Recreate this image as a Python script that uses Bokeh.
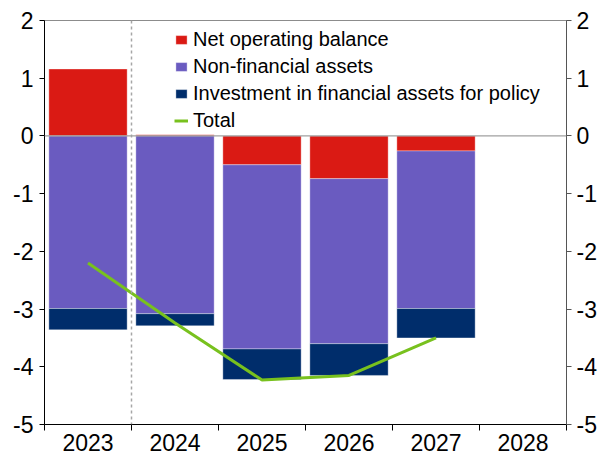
import numpy as np
from bokeh.plotting import figure
from bokeh.models import Range1d, FixedTicker, LinearAxis, Span, ColumnDataSource
from bokeh.embed import file_html
from bokeh.resources import INLINE

years = ["2023", "2024", "2025", "2026", "2027", "2028"]
net_operating_balance = [1.16, 0.02, -0.50, -0.74, -0.26]
non_financial_assets = [-2.99, -3.08, -3.19, -2.86, -2.73]
investment_policy = [-0.37, -0.21, -0.53, -0.55, -0.51]
total = [-2.20, -3.24, -4.23, -4.15, -3.50]
y_ticks = [-5, -4, -3, -2, -1, 0, 1, 2]

RED = "#DA1A14"
PURPLE = "#6A5BC0"
NAVY = "#002D6B"
GREEN = "#78C11E"
FONT = "Liberation Sans"

n = len(net_operating_balance)
x = np.arange(n)
nob = np.array(net_operating_balance)
nfa = np.array(non_financial_assets)
inv = np.array(investment_policy)

# stacking: positives above zero, negatives below
nob_bottom = np.zeros(n)
nob_top = nob
neg_base = np.where(nob < 0, nob, 0.0)
nfa_top = neg_base
nfa_bottom = neg_base + nfa
inv_top = nfa_bottom
inv_bottom = nfa_bottom + inv

src = ColumnDataSource(dict(x=x, nob_b=nob_bottom, nob_t=nob_top, nfa_t=nfa_top,
                            nfa_b=nfa_bottom, inv_t=inv_top, inv_b=inv_bottom,
                            total=total))

p = figure(width=599, height=457, output_backend="svg", toolbar_location=None,
           x_range=Range1d(-0.5, len(years) - 0.5), y_range=Range1d(-5, 2),
           min_border_left=44, min_border_right=31, min_border_top=20,
           min_border_bottom=33)
p.xgrid.visible = False
p.ygrid.visible = False
p.outline_line_color = "#8c8c8c"
p.outline_line_width = 1
p.background_fill_color = "white"

p.add_layout(Span(location=0.5, dimension="height", line_color="#a6a6a6",
                  line_dash="3 3", line_width=1.5))
p.add_layout(Span(location=0, dimension="width", line_color="#a0a0a0", line_width=1.2))

bw = 0.9
p.vbar(x="x", bottom="nob_b", top="nob_t", width=bw, source=src, fill_color=RED,
       line_color="white", line_alpha=0.35, legend_label="Net operating balance")
p.vbar(x="x", bottom="nfa_b", top="nfa_t", width=bw, source=src, fill_color=PURPLE,
       line_color="white", line_alpha=0.35, legend_label="Non-financial assets")
p.vbar(x="x", bottom="inv_b", top="inv_t", width=bw, source=src, fill_color=NAVY,
       line_color="white", line_alpha=0.35,
       legend_label="Investment in financial assets for policy")
p.line(x="x", y="total", source=src, line_color=GREEN, line_width=3,
       legend_label="Total")

y_labels = {t: str(t) for t in y_ticks}

# x axis
xa = p.xaxis[0]
xa.ticker = FixedTicker(ticks=list(range(len(years))),
                        minor_ticks=[i - 0.5 for i in range(len(years) + 1)])
xa.major_label_overrides = {i: y for i, y in enumerate(years)}
xa.major_tick_out = 0
xa.major_tick_in = 0
xa.minor_tick_out = 6
xa.minor_tick_in = 0
xa.minor_tick_line_color = "black"
xa.axis_line_color = "black"
xa.major_label_standoff = 3
xa.major_label_text_font = FONT
xa.major_label_text_font_size = "23px"
xa.major_label_text_color = "black"

# left axis
ya = p.yaxis[0]
ya.ticker = FixedTicker(ticks=y_ticks)
ya.major_label_overrides = y_labels
ya.minor_tick_line_color = None
ya.major_tick_out = 5
ya.major_tick_in = 0
ya.axis_line_color = "black"
ya.major_tick_line_color = "black"
ya.major_label_standoff = 6
ya.major_label_text_font = FONT
ya.major_label_text_font_size = "23px"
ya.major_label_text_color = "black"

# right axis
ra = LinearAxis(ticker=FixedTicker(ticks=y_ticks))
ra.major_label_overrides = y_labels
ra.minor_tick_line_color = None
ra.major_tick_out = 5
ra.major_tick_in = 0
ra.axis_line_color = "#555555"
ra.major_tick_line_color = "#555555"
ra.major_label_standoff = 5
ra.major_label_text_font = FONT
ra.major_label_text_font_size = "23px"
ra.major_label_text_color = "black"
p.add_layout(ra, "right")

lg = p.legend[0]
lg.location = (130, 292)
lg.background_fill_alpha = 0
lg.border_line_color = None
lg.padding = 0
lg.margin = 0
lg.spacing = 3
lg.label_height = 24
lg.glyph_height = 11
lg.glyph_width = 14
lg.label_standoff = 5
lg.label_text_font = FONT
lg.label_text_font_size = "20px"
lg.label_text_color = "black"

open("out.html", "w").write(file_html(p, INLINE))
